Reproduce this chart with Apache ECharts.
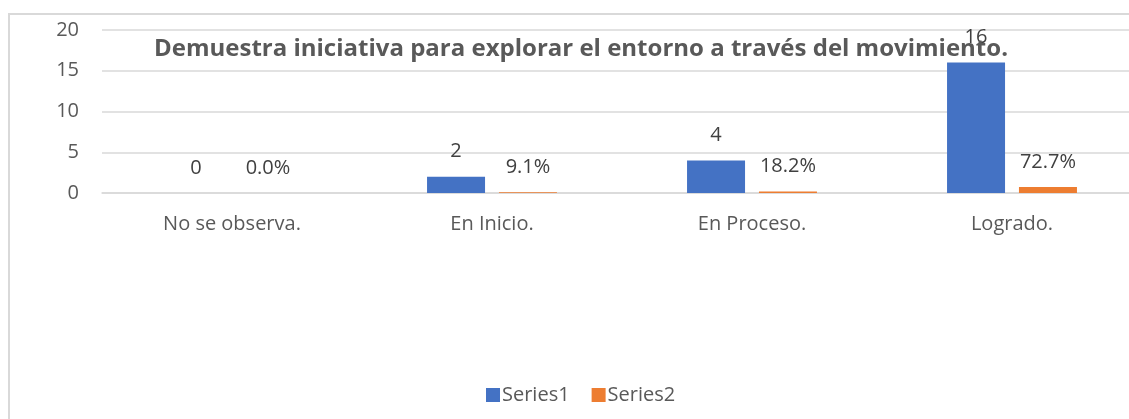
<!DOCTYPE html>
<html>
<head>
<meta charset="utf-8">
<script src="https://cdn.jsdelivr.net/npm/echarts@6/dist/echarts.min.js"></script>
<style>
html,body{margin:0;padding:0;background:#fff;}
#c{width:1129px;height:419px;}
</style>
</head>
<body>
<div id="c"></div>
<script>
const categories = ['No se observa.', 'En Inicio.', 'En Proceso.', 'Logrado.'];
const series1 = [0, 2, 4, 16];
const series2 = [0, 0.091, 0.182, 0.727];
const yTicks = [0, 5, 10, 15, 20];
const titleText = 'Demuestra iniciativa para explorar el entorno a través del movimiento.';

const FONT = '"Open Sans", sans-serif';
const GREY = '#595959';
const chart = echarts.init(document.getElementById('c'));
chart.setOption({
  animation: false,
  textStyle: { fontFamily: FONT },
  graphic: [{
    type: 'rect', left: 8, top: 13, z: -1,
    shape: { width: 1140, height: 420 },
    style: { fill: '#fff', stroke: '#D9D9D9', lineWidth: 2 }
  }],
  title: {
    text: titleText, left: 576, top: 32, textAlign: 'center',
    textStyle: { fontFamily: FONT, fontSize: 24, fontWeight: 'bold', color: GREY }
  },
  legend: {
    left: 481, top: 380, itemWidth: 14, itemHeight: 14, itemGap: 22,
    icon: 'rect',
    textStyle: { fontFamily: FONT, fontSize: 20, color: GREY, padding: [0,0,0,-3] },
    data: ['Series1', 'Series2']
  },
  grid: { left: 102, top: 30, width: 1040, height: 163, containLabel: false, outerBoundsMode: 'none' },
  xAxis: {
    type: 'category', data: categories,
    axisLine: { lineStyle: { color: '#D9D9D9', width: 1.5 } },
    axisTick: { show: false },
    axisLabel: { fontFamily: FONT, fontSize: 20, color: GREY, margin: 21 }
  },
  yAxis: {
    type: 'value', min: yTicks[0], max: yTicks[yTicks.length-1], interval: 5,
    axisLine: { show: false }, axisTick: { show: false },
    splitLine: { lineStyle: { color: '#D9D9D9', width: 1.5 } },
    axisLabel: { fontFamily: FONT, fontSize: 20, color: GREY, margin: 23 }
  },
  series: [{
    name: 'Series1', type: 'bar', data: series1, barWidth: 58, barGap: '24%',
    itemStyle: { color: '#4472C4' },
    label: { show: true, position: 'top', distance: 15, fontFamily: FONT, fontSize: 20, color: '#404040' }
  }, {
    name: 'Series2', type: 'bar', data: series2, barWidth: 58,
    itemStyle: { color: '#ED7D31' },
    label: { show: true, position: 'top', distance: 15, fontFamily: FONT, fontSize: 20, color: '#404040',
      formatter: p => (p.value * 100).toFixed(1) + '%' }
  }]
});
</script>
</body>
</html>
